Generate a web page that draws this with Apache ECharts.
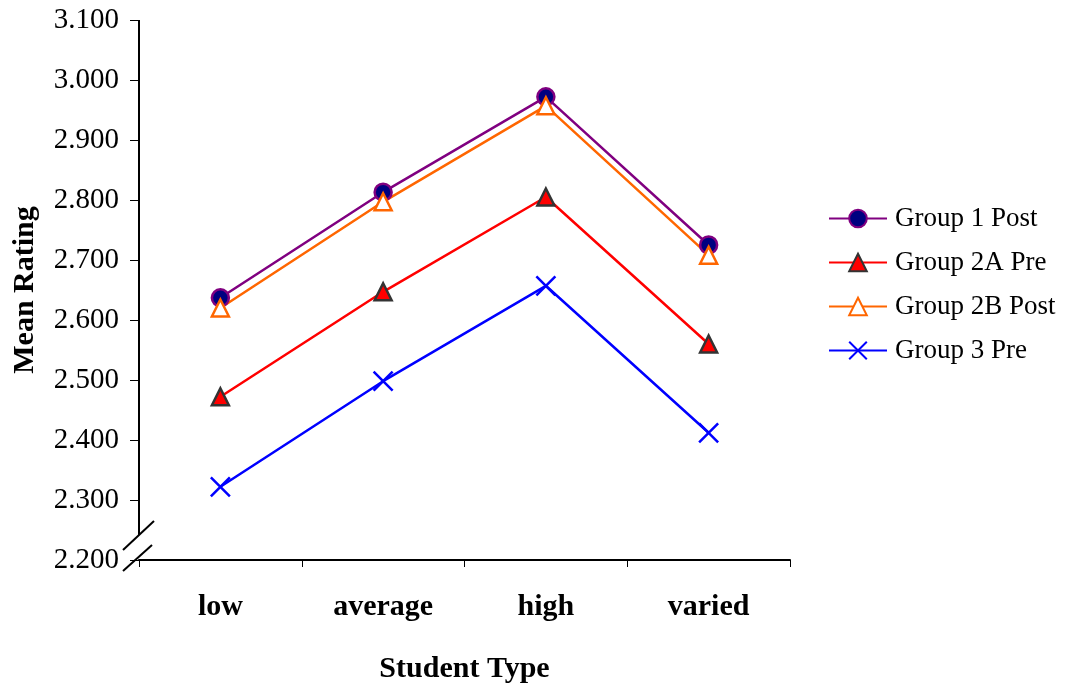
<!DOCTYPE html>
<html><head><meta charset="utf-8">
<script src="https://cdn.jsdelivr.net/npm/echarts@6/dist/echarts.min.js"></script>
<style>html,body{margin:0;padding:0;background:#fff}#c{width:1086px;height:684px}</style>
</head><body><div id="c"></div>
<script>
const categories = ['low', 'average', 'high', 'varied'];
const group1Post = [2.637, 2.813, 2.972, 2.725];
const group2APre = [2.472, 2.647, 2.805, 2.560];
const group2BPost = [2.620, 2.797, 2.957, 2.708];
const group3Pre = [2.322, 2.498, 2.657, 2.412];
const seriesNames = ['Group 1 Post', 'Group 2A Pre', 'Group 2B Post', 'Group 3 Pre'];

const FONT = '"Liberation Serif", "DejaVu Serif", serif';
const chart = echarts.init(document.getElementById('c'));
const xPath = 'path://M0,0L10,10M10,0L0,10';
chart.setOption({
  animation: false,
  grid: {left: 139, right: 296, top: 20, bottom: 124, outerBoundsMode: 'none', containLabel: false},
  legend: {
    orient: 'vertical', left: 828, top: 205, padding: 0, itemGap: 17,
    itemWidth: 58, itemHeight: 22,
    textStyle: {fontFamily: FONT, fontSize: 27, color: '#000', padding: [0,0,0,3]},
    data: seriesNames
  },
  xAxis: {
    type: 'category', data: categories, boundaryGap: true,
    axisLine: {lineStyle: {color: '#000', width: 2}},
    axisTick: {show: true, length: 7, lineStyle: {color: '#000', width: 1}},
    axisLabel: {fontFamily: FONT, fontSize: 30, fontWeight: 'bold', color: '#000', margin: 32},
    name: 'Student Type', nameLocation: 'middle', nameGap: 94,
    nameTextStyle: {fontFamily: FONT, fontSize: 30, fontWeight: 'bold', color: '#000'}
  },
  yAxis: {
    type: 'value', min: 2.2, max: 3.1, interval: 0.1,
    axisLine: {show: false},
    axisTick: {show: true, length: 9, lineStyle: {color: '#000', width: 1}},
    splitLine: {show: false},
    axisLabel: {fontFamily: FONT, fontSize: 29, color: '#000', margin: 20,
      formatter: v => v.toFixed(3)},
    name: 'Mean Rating', nameLocation: 'middle', nameGap: 99, nameRotate: 90,
    nameTextStyle: {fontFamily: FONT, fontSize: 30, fontWeight: 'bold', color: '#000'}
  },
  series: [
    {name: seriesNames[0], type: 'line', data: group1Post, symbol: 'circle', symbolSize: 17,
     lineStyle: {color: '#800080', width: 2.5},
     itemStyle: {color: '#000080', borderColor: '#800080', borderWidth: 2.5}},
    {name: seriesNames[1], type: 'line', data: group2APre, symbol: 'triangle', symbolSize: 17,
     lineStyle: {color: '#ff0000', width: 2.5},
     itemStyle: {color: '#ff0000', borderColor: '#333333', borderWidth: 2.5}},
    {name: seriesNames[2], type: 'line', data: group2BPost, symbol: 'triangle', symbolSize: 17,
     lineStyle: {color: '#ff6600', width: 2.5},
     itemStyle: {color: '#ffffff', borderColor: '#ff6600', borderWidth: 2.5}},
    {name: seriesNames[3], type: 'line', data: group3Pre, symbol: xPath, symbolSize: 19,
     lineStyle: {color: '#0000ff', width: 2.5},
     itemStyle: {color: 'none', borderColor: '#0000ff', borderWidth: 2.5}}
  ]
});

// y axis line with break marks at the bottom
const yTop = chart.convertToPixel({yAxisIndex: 0}, 3.1);
const yBot = chart.convertToPixel({yAxisIndex: 0}, 2.2);
const step = chart.convertToPixel({xAxisIndex: 0}, 1) - chart.convertToPixel({xAxisIndex: 0}, 0);
const x0 = chart.convertToPixel({xAxisIndex: 0}, 0) - step / 2;
chart.setOption({
  graphic: [
    {type: 'line', shape: {x1: x0, y1: yTop, x2: x0, y2: yBot - 25}, style: {stroke: '#000', lineWidth: 2}},
    {type: 'line', shape: {x1: x0 - 16, y1: yBot - 10, x2: x0 + 15, y2: yBot - 39}, style: {stroke: '#000', lineWidth: 2}},
    {type: 'line', shape: {x1: x0 - 16, y1: yBot + 11, x2: x0 + 13, y2: yBot - 15}, style: {stroke: '#000', lineWidth: 2}}
  ]
});
</script>
</body></html>
